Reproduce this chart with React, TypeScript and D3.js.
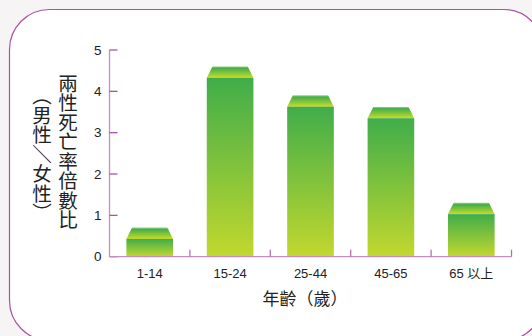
import React from "react";
import * as d3 from "d3";

const categories = ["1-14", "15-24", "25-44", "45-65", "65 以上"];
const values = [0.43, 4.33, 3.63, 3.35, 1.03];
const yTicks = [0, 1, 2, 3, 4, 5];
const yTitle = "兩性死亡率倍數比";
const yTitle2 = "︵男性＼女性︶";
const xTitle = "年齡（歲）";

export default function App() {
  const W = 532, H = 336;
  const x0 = 109.5, x1 = 511.5, yBottom = 256.7, yTop = 50;
  const x = d3.scaleBand<string>().domain(categories).range([x0, x1]).paddingInner(0.42).paddingOuter(0.21);
  const y = d3.scaleLinear().domain([0, 5]).range([yBottom, yTop]);
  const capH = 11.3;
  const inset = 5.7;
  const font = "'Liberation Sans', Arial, 'Noto Sans CJK TC', sans-serif";
  const cjk = "'Noto Sans CJK TC', 'Liberation Sans', sans-serif";
  const bounds = categories.map((c) => (x(c) as number) + x.bandwidth() / 2 + x.step() / 2);
  const vstyle: React.CSSProperties = { writingMode: "vertical-rl", textOrientation: "upright" } as React.CSSProperties;
  return (
    <svg width={W} height={H} style={{ position: "absolute", left: 0, top: 0, display: "block" }}>
      <defs>
        <linearGradient id="front" x1="0" y1="0" x2="0" y2="1">
          <stop offset="0%" stopColor="#40ad4a" />
          <stop offset="100%" stopColor="#c2d82e" />
        </linearGradient>
        <linearGradient id="cap" x1="0" y1="0" x2="0" y2="1">
          <stop offset="0%" stopColor="#9ad48a" />
          <stop offset="15%" stopColor="#43ae4a" />
          <stop offset="100%" stopColor="#c9dc27" />
        </linearGradient>
      </defs>
      <rect x={0} y={0} width={W} height={H} fill="#f6f4f4" />
      <rect x={9.5} y={9.5} width={534} height={331} rx={40} ry={40} fill="#ffffff" stroke="#a9549f" strokeWidth={1.2} />
      {categories.map((c, i) => {
        const bx = x(c) as number;
        const bw = x.bandwidth();
        const top = y(values[i]);
        return (
          <g key={c}>
            <path
              d={`M${bx},${top} L${bx + inset},${top - capH} L${bx + bw - inset},${top - capH} L${bx + bw},${top} Z`}
              fill="url(#cap)"
            />
            <rect x={bx} y={top} width={bw} height={yBottom - top} fill="url(#front)" />
          </g>
        );
      })}
      <line x1={x0} x2={x0} y1={yTop} y2={yBottom} stroke="#c48fbf" strokeWidth={1.3} />
      {yTicks.map((t) => (
        <g key={t}>
          <line x1={x0} x2={x0 + 8} y1={y(t)} y2={y(t)} stroke="#a8549f" strokeWidth={1.3} />
          <text x={101.5} y={y(t)} dy="0.35em" textAnchor="end" fontSize={13.5} fontFamily={font} fill="#222">
            {t}
          </text>
        </g>
      ))}
      <line x1={x0} x2={x1} y1={yBottom} y2={yBottom} stroke="#c48fbf" strokeWidth={1.3} />
      {bounds.map((bx, i) => (
        <line key={i} x1={bx} x2={bx} y1={yBottom} y2={yBottom - 7} stroke="#b86fb1" strokeWidth={1.3} />
      ))}
      {categories.map((c) => (
        <text key={c} x={(x(c) as number) + x.bandwidth() / 2} y={277.5} textAnchor="middle" fontSize={13} fontFamily={font} fill="#222">
          {c}
        </text>
      ))}
      <text x={305} y={305} textAnchor="middle" fontSize={17} fontFamily={cjk} fill="#222">
        {xTitle}
      </text>
      <text x={68} y={151.5} textAnchor="middle" fontSize={19.5} fontFamily={cjk} fill="#222" style={vstyle}>
        {yTitle}
      </text>
      <text x={42} y={154.5} textAnchor="middle" fontSize={19.5} fontFamily={cjk} fill="#222" style={vstyle}>
        {yTitle2}
      </text>
    </svg>
  );
}
